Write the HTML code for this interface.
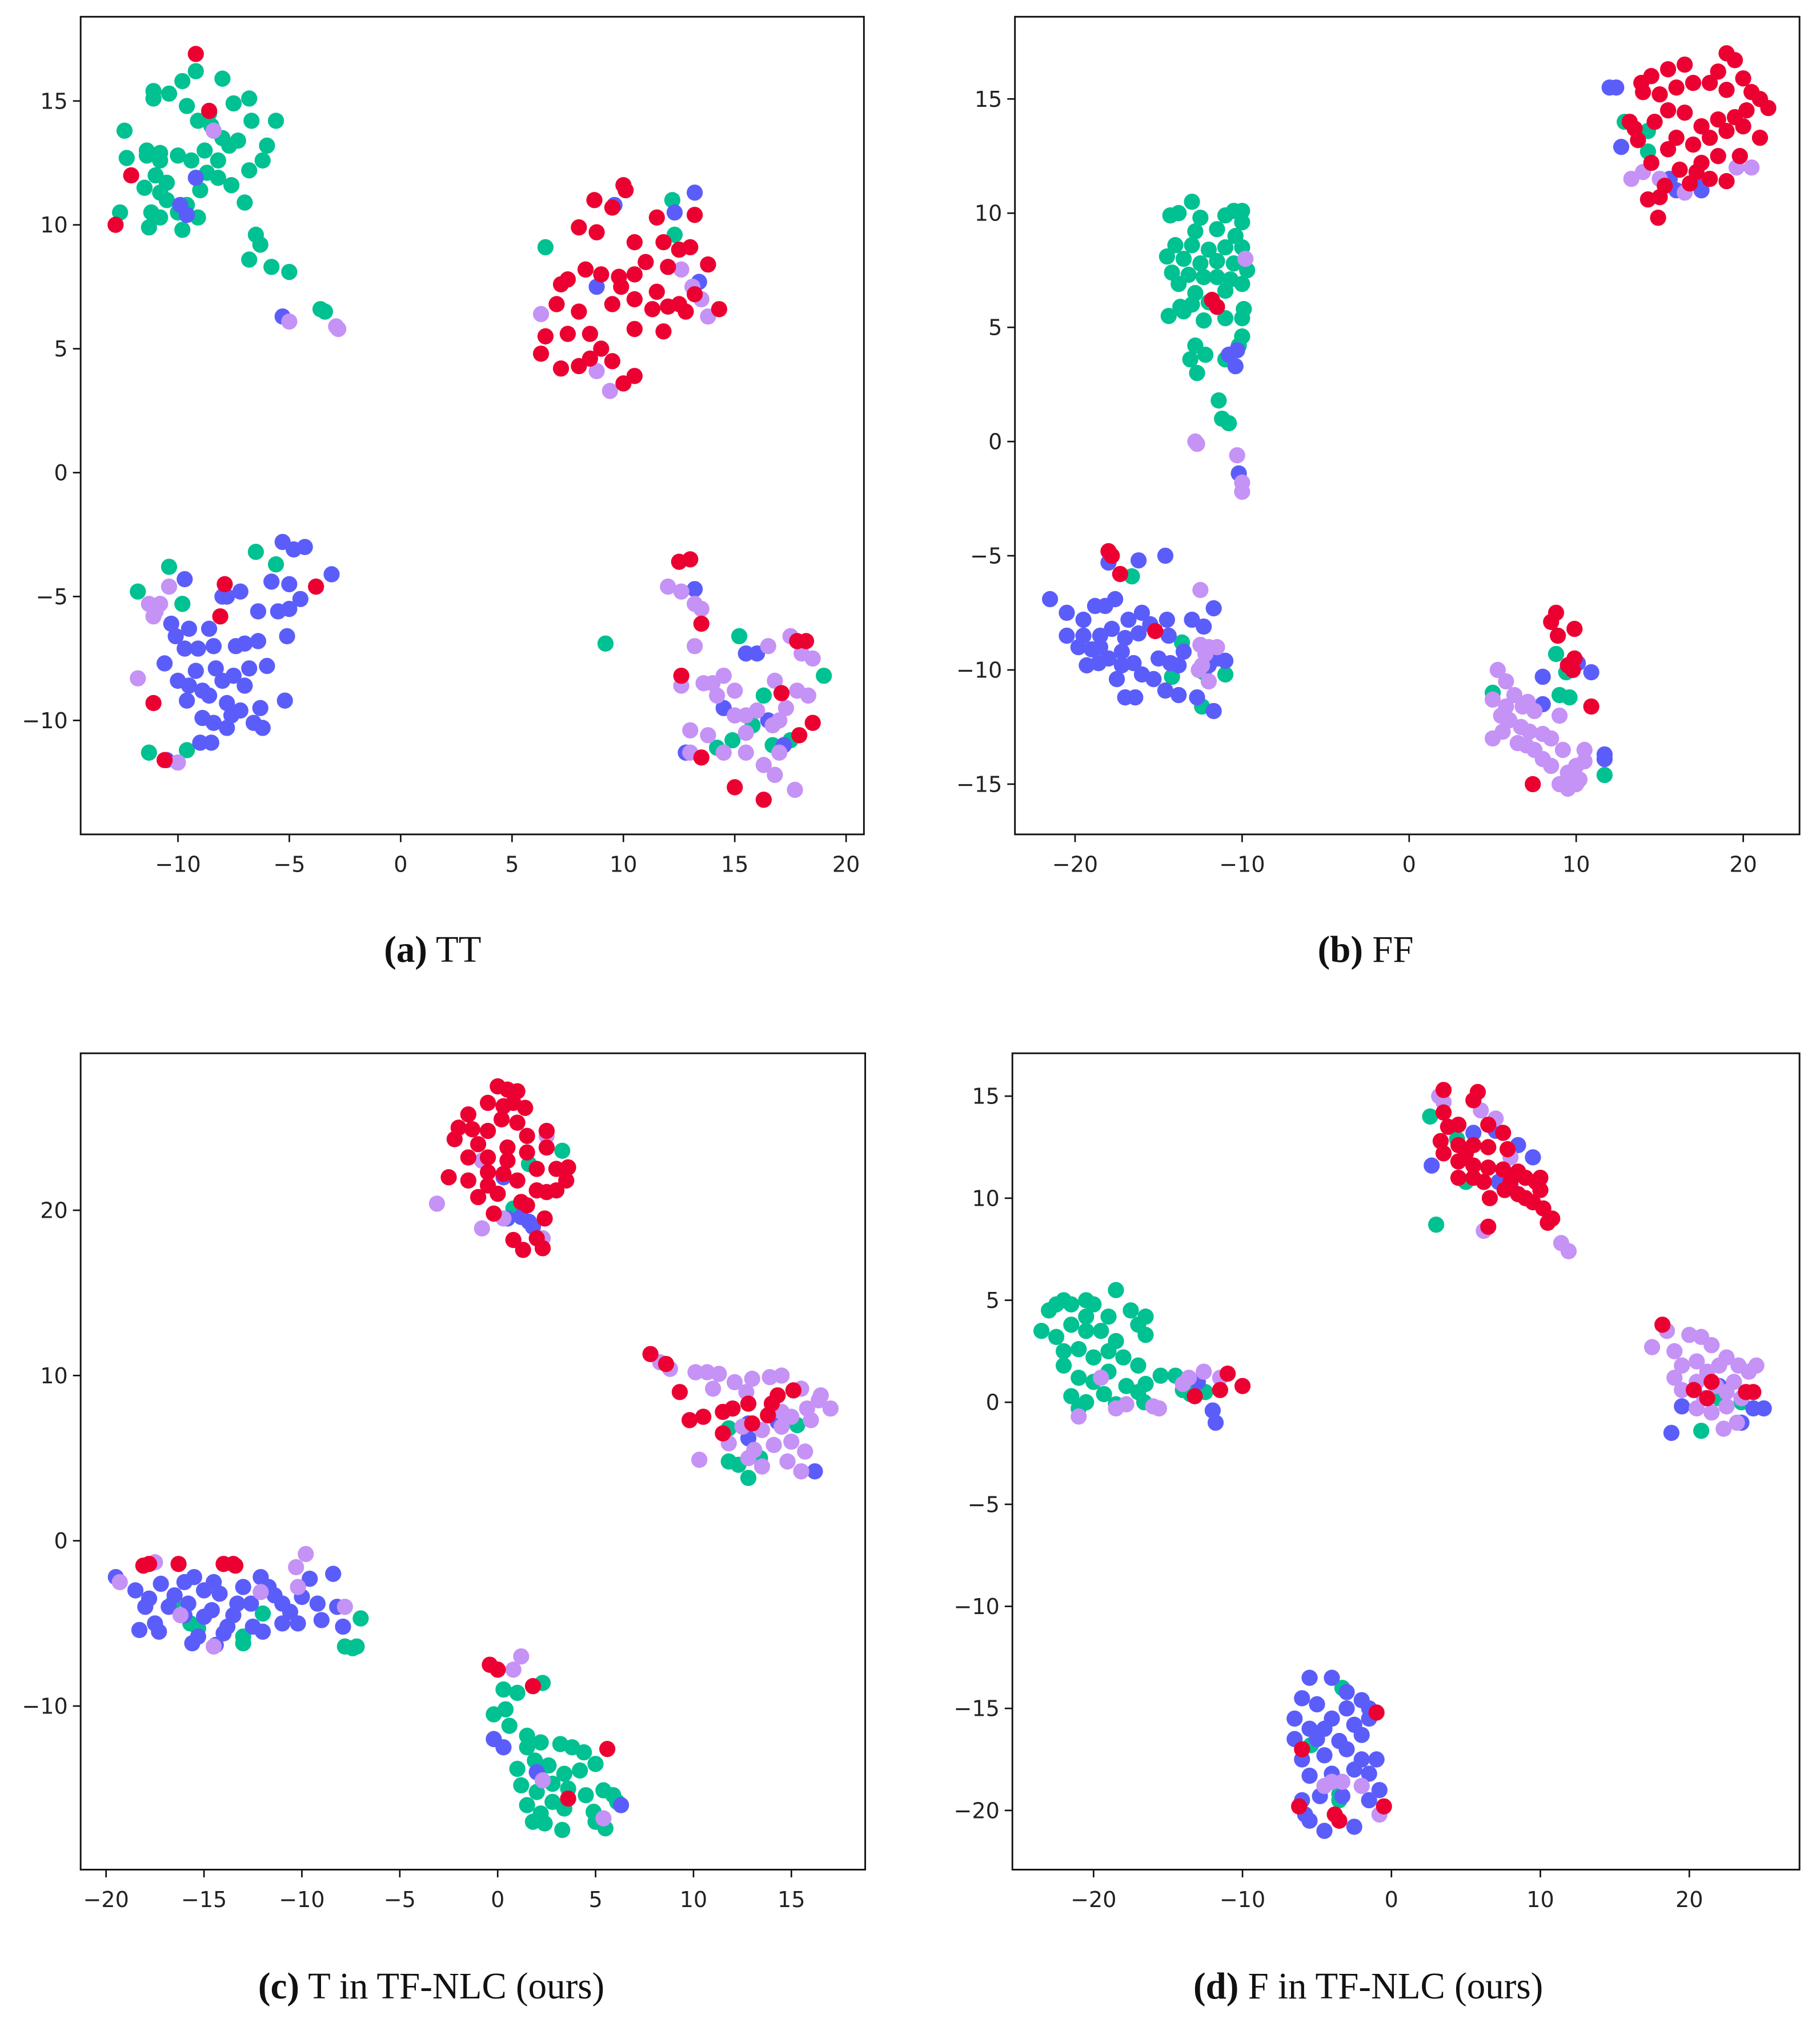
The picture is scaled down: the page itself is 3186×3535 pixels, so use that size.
<!DOCTYPE html>
<html><head><meta charset="utf-8"><style>
html,body{margin:0;padding:0;background:#fff;}
svg{display:block;}
.tick{font-family:"DejaVu Sans","Liberation Sans",sans-serif;font-size:17px;fill:#222;}
.cap{font-family:"Liberation Serif",serif;font-size:29px;fill:#111;}
</style></head><body>
<svg id="fig" width="3186" height="3535" viewBox="0 0 1422 1568" preserveAspectRatio="none" xmlns="http://www.w3.org/2000/svg"></svg>
<script>
// ---- data (cluster class codes: g=green, b=blue, l=lilac, r=red) ----
const panelNames=["a","b","c","d"];
const captionsLetter=["(a)","(b)","(c)","(d)"];
const captionsText=[" TT"," FF"," T in TF-NLC (ours)"," F in TF-NLC (ours)"];
const xTicksA=[-10,-5,0,5,10,15,20], yTicksA=[-10,-5,0,5,10,15];
const xTicksB=[-20,-10,0,10,20], yTicksB=[-15,-10,-5,0,5,10,15];
const xTicksC=[-20,-15,-10,-5,0,5,10,15], yTicksC=[-10,0,10,20];
const xTicksD=[-20,-10,0,10,20], yTicksD=[-20,-15,-10,-5,0,5,10,15];

const greenA=[[-12.4,13.8],[-12.3,12.7],[-12.6,10.5],[-11.1,15.4],[-11.1,15.1],[-11.4,12.8],[-10.8,12.6],[-10.4,15.3],[-9.8,15.8],[-9.2,16.2],[-9.6,14.8],[-9.1,14.2],[-8.6,14.5],[-8.0,15.9],[-7.5,14.9],[-6.8,15.1],[-6.7,14.2],[-5.6,14.2],[-6.0,13.2],[-6.2,12.6],[-6.8,12.2],[-7.0,10.9],[-7.6,11.6],[-8.2,11.9],[-8.7,12.1],[-9.0,11.4],[-9.1,10.3],[-9.6,10.8],[-10.0,10.5],[-10.5,11.0],[-10.8,10.3],[-11.3,9.9],[-11.2,10.5],[-10.8,11.3],[-10.5,11.7],[-11.0,12.0],[-11.4,13.0],[-10.8,12.9],[-10.0,12.8],[-9.4,12.6],[-8.8,13.0],[-8.2,12.6],[-7.7,13.2],[-6.5,9.6],[-6.3,9.2],[-5.8,8.3],[-5.0,8.1],[-3.6,6.6],[-3.4,6.5],[-11.5,11.5],[-8.5,14.0],[-8.0,13.5],[-7.3,13.4],[-9.8,9.8],[-6.8,8.6],[6.5,9.1],[12.2,11.0],[9.2,-6.9],[12.3,9.6],
[-11.8,-4.8],[-10.4,-3.8],[-9.8,-5.3],[-6.5,-3.2],[-5.6,-3.7],[-11.3,-11.3],[-9.6,-11.2],
[15.2,-6.6],[16.3,-9.0],[19.0,-8.2],[15.8,-10.2],[14.9,-10.8],[16.7,-11.0],[17.5,-10.8],[14.2,-11.1]];
const blueA=[[-9.2,11.9],[-9.9,10.8],[-5.3,6.3],[-9.6,10.4],[9.6,10.8],[12.3,10.5],[13.2,11.3],[13.4,7.7],[8.8,7.5],
[-5.3,-2.8],[-4.8,-3.1],[-4.3,-3.0],[-3.1,-4.1],[-5.8,-4.4],[-5.0,-4.5],[-4.5,-5.1],[-5.0,-5.5],[-5.5,-5.6],[-7.2,-4.8],[-7.8,-5.0],[-6.4,-5.6],[-5.1,-6.6],[-9.7,-4.3],[-10.3,-6.1],[-10.1,-6.6],[-9.5,-6.3],[-8.6,-6.3],[-9.7,-7.1],[-9.1,-7.1],[-8.4,-7.0],[-7.4,-7.0],[-7.0,-6.9],[-6.4,-6.8],[-10.6,-7.7],[-9.2,-8.0],[-8.3,-7.9],[-7.5,-8.2],[-6.8,-7.9],[-6.0,-7.8],[-10.0,-8.4],[-9.5,-8.6],[-8.9,-8.8],[-8.0,-8.4],[-7.0,-8.6],[-9.6,-9.2],[-8.6,-9.0],[-7.8,-9.3],[-7.2,-9.6],[-6.3,-9.5],[-5.2,-9.2],[-8.9,-9.9],[-8.4,-10.1],[-7.6,-9.8],[-6.6,-10.1],[-6.2,-10.3],[-9.0,-10.9],[-8.5,-10.9],[-10.5,-11.6],[-7.8,-10.3],[-8.0,-5.0],
[13.2,-4.7],[15.5,-7.3],[16.0,-7.3],[12.8,-11.3],[17.2,-11.0],[16.5,-10.0],[14.5,-9.5]];
const lilacA=[[-8.4,13.8],[-5.0,6.1],[-2.8,5.8],[-2.9,5.9],[6.3,6.4],[8.8,4.1],[9.4,3.3],[13.5,7.0],[13.8,6.3],[12.6,8.2],[13.1,7.5],
[-11.3,-5.3],[-11.0,-5.6],[-10.8,-5.3],[-10.4,-4.6],[-11.8,-8.3],[-10.0,-11.7],[-11.1,-5.8],
[12.0,-4.6],[12.6,-4.8],[13.2,-5.3],[13.5,-5.5],[13.2,-7.0],[12.6,-8.6],[13.6,-8.5],[14.0,-8.5],[14.5,-8.2],[15.0,-8.8],[14.2,-9.0],[13.0,-10.4],[13.8,-10.6],[15.0,-9.8],[15.5,-9.8],[16.0,-9.6],[16.5,-7.0],[16.8,-8.4],[17.5,-6.6],[18.0,-7.3],[18.5,-7.5],[17.8,-8.8],[18.3,-9.0],[17.3,-9.5],[16.7,-10.2],[17.0,-10.0],[15.5,-11.3],[14.5,-11.3],[16.3,-11.8],[17.0,-11.3],[16.8,-12.2],[17.7,-12.8],[13.0,-11.3],[15.5,-10.5]];
const redA=[[-12.8,10.0],[-12.1,12.0],[-9.2,16.9],[-8.6,14.6],
[10.0,11.6],[10.1,11.4],[8.7,11.0],[9.5,10.7],[11.5,10.3],[13.2,10.4],[8.0,9.9],[8.8,9.7],[10.5,9.3],[11.8,9.3],[12.5,9.0],[13.0,9.1],[7.5,7.8],[7.2,7.6],[8.3,8.2],[9.0,8.0],[9.8,7.9],[10.5,8.0],[11.0,8.5],[12.0,8.3],[13.8,8.4],[7.0,6.8],[8.0,6.5],[9.5,6.8],[10.5,7.0],[11.3,6.6],[12.0,6.7],[12.8,6.5],[14.3,6.6],[6.5,5.5],[7.5,5.6],[8.5,5.6],[9.0,5.0],[10.5,5.8],[11.8,5.7],[6.3,4.8],[7.2,4.2],[8.0,4.3],[8.5,4.6],[9.5,4.5],[10.0,3.6],[10.5,3.9],[12.5,6.8],[13.2,7.2],[11.5,7.3],[9.9,7.5],
[-7.9,-4.5],[-8.1,-5.8],[-11.1,-9.3],[-10.6,-11.6],[-3.8,-4.6],
[12.5,-3.6],[13.0,-3.5],[13.5,-6.1],[12.6,-8.2],[17.8,-6.8],[18.2,-6.8],[17.1,-8.9],[18.5,-10.1],[17.9,-10.6],[13.5,-11.5],[15.0,-12.7],[16.3,-13.2]];

const greenB=[[12.9,14],[14.3,13.6],[14.3,12.7],
[-13,10.5],[-14.3,9.9],[-13.8,10],[-12.5,9.8],[-11,9.9],[-10.5,10.1],[-10,10.1],[-10,9.6],[-11.5,9.3],[-12.8,9.2],[-14,8.6],[-13,8.6],[-12,8.4],[-11,8.5],[-10,8.5],[-14.5,8.1],[-13.5,8],[-12.5,7.8],[-11.5,7.9],[-10.5,7.8],[-9.7,7.5],[-14.2,7.4],[-13.2,7.3],[-12.3,7.2],[-11.5,7.2],[-10.7,7.1],[-10,6.9],[-13.8,6.9],[-12.8,6.5],[-11,6.6],[-14.4,5.5],[-13.5,5.7],[-12.3,5.3],[-11,5.4],[-10,5.4],[-9.9,5.8],[-12.8,4.2],[-12.2,3.8],[-13.1,3.6],[-11,3.6],[-12.7,3],[-10.2,4.2],[-10,4.6],[-11.4,1.8],[-11.2,1],[-10.8,0.8],[-13.7,5.9],[-12,6.1],[-13,6.0],[-10.4,9.0],
[-16.6,-5.9],[-13.6,-8.8],[-14.2,-10.3],[-12.4,-11.6],[-11,-10.2],[-12.3,-10.1],
[8.8,-9.3],[9.4,-10.1],[9.0,-11.1],[9.6,-11.2],[11.7,-14.6],[5,-11.0]];
const blueB=[[12,15.5],[12.4,15.5],[12.7,12.9],[17.4,11.3],[17.5,11],[16,11],[15.6,11.5],
[-10.8,3.8],[-10.4,3.3],[-10.2,-1.4],[-10.3,4.0],
[-21.5,-6.9],[-20.5,-7.5],[-19.5,-8.5],[-19.5,-7.8],[-18.8,-7.2],[-18.2,-7.2],[-17.6,-6.9],[-16.8,-7.8],[-16,-7.5],[-18,-5.3],[-16.2,-5.2],[-14.6,-5.0],[-20.5,-8.5],[-19.8,-9.0],[-19,-9.1],[-18.5,-8.5],[-17.8,-8.2],[-17,-8.6],[-16.2,-8.4],[-15.5,-8.0],[-14.5,-7.8],[-14.4,-8.5],[-19.3,-9.8],[-18.6,-9.7],[-18,-9.5],[-17.2,-9.2],[-16.5,-9.7],[-16,-10.2],[-15,-9.5],[-14.3,-9.7],[-13.8,-9.8],[-13.5,-9.2],[-13,-7.8],[-12.3,-8.1],[-11.7,-7.3],[-12,-9.8],[-11,-9.6],[-11.5,-9.5],[-17.5,-10.4],[-17,-11.2],[-16.4,-11.2],[-15.3,-10.4],[-14.6,-10.9],[-13.8,-11.1],[-12.7,-11.2],[-11.7,-11.8],[-18.5,-9],[-17.2,-9.8],
[8.0,-10.3],[10.1,-9.7],[10.9,-10.1],[8.0,-11.5],[11.7,-13.7],[11.7,-13.9]];
const lilacB=[[13.3,11.5],[14,11.8],[16.5,10.9],[19.6,12],[20.5,12],[15,11.5],
[-9.8,8],[-12.8,0],[-12.7,-0.1],[-10.3,-0.6],[-10,-1.8],[-10,-2.2],
[-12.5,-6.5],[-12.5,-8.9],[-12.2,-9.3],[-12.4,-9.8],[-11.5,-9.0],[-12,-10.5],[-12.6,-10],[-12.0,-9.0],
[5.3,-10.0],[5.0,-11.3],[5.8,-10.5],[6.3,-11.1],[6.8,-11.6],[7.1,-11.4],[7.5,-11.8],[5.5,-12],[6,-12.2],[6.7,-12.5],[7.2,-12.7],[8.0,-12.8],[8.5,-13.0],[9.0,-12.0],[9.2,-13.5],[5.0,-13.0],[5.6,-12.7],[6.5,-13.2],[7.0,-13.3],[7.5,-13.5],[8.0,-13.9],[8.5,-14.2],[9.5,-14.5],[10,-14.2],[10.5,-14],[10.2,-14.8],[9.0,-15.0],[9.5,-15.2],[10,-15.0],[10.5,-13.5],[5.8,-11.6]];
const redB=[[19,17],[19.5,16.7],[20,15.9],[18.5,16.2],[16.5,16.5],[15.5,16.3],[14.5,16],[13.9,15.7],[14,15.3],[15,15.2],[16,15.5],[17,15.7],[18,15.7],[19,15.4],[20.5,15.3],[21,15],[21.5,14.6],[20.2,14.5],[19.5,14.2],[18.5,14.1],[17.5,13.8],[16.5,14.4],[15.5,14.5],[14.7,14],[13.2,14],[13.5,13.7],[17,13],[18,13.3],[19,13.6],[20,13.8],[21,13.3],[19.8,12.5],[18.5,12.5],[17.5,12.2],[16,13.3],[15.5,12.8],[14.5,12.2],[16.2,11.9],[17.2,11.8],[18,11.5],[19,11.4],[15.3,11.2],[14.3,10.6],[15,10.7],[14.9,9.8],[16.8,11.3],[13.7,13.2],
[-11.5,5.9],[-11.8,6.2],
[-18,-4.8],[-17.8,-5.0],[-17.3,-5.8],[-15.2,-8.3],
[8.8,-7.5],[8.5,-7.9],[8.9,-8.5],[9.9,-8.2],[9.9,-9.5],[9.5,-9.8],[9.8,-10],[10.9,-11.6],[7.4,-15.0]];

const greenC=[[1.6,22.8],[3.3,23.6],[0.8,20.1],
[11.8,6.8],[11.8,4.8],[12.3,4.6],[12.8,3.8],[15.3,7.0],[13.4,5.0],
[-16.6,-3.8],[-15.7,-5.0],[-15.3,-5.3],[-13.0,-6.2],[-13.0,-5.8],[-12.0,-4.4],[-7.8,-6.4],[-7.4,-6.5],[-7.2,-6.4],[-7.0,-4.7],
[-0.2,-10.5],[0.4,-10.2],[0.3,-9.0],[1.0,-9.2],[2.3,-8.6],[0.6,-11.2],[1.5,-11.8],[1.5,-12.5],[2.2,-12.2],[3.2,-12.3],[3.8,-12.5],[4.4,-12.8],[1.0,-13.8],[1.9,-13.3],[2.6,-13.6],[3.4,-14.1],[4.2,-13.9],[5.0,-13.5],[1.2,-14.8],[2.0,-15.2],[2.8,-14.7],[3.6,-15.0],[4.5,-15.4],[5.4,-15.1],[5.9,-15.4],[6.1,-15.8],[1.5,-16],[2.2,-16.5],[2.8,-15.8],[3.4,-16.2],[4.9,-16.4],[2.4,-17.1],[3.3,-17.5],[5.0,-17.0],[5.5,-17.4],[1.8,-17.0]];
const blueC=[[0.5,19.5],[1.2,19.6],[1.8,19.0],[1.6,19.3],[0.3,22.0],
[12.8,7.1],[14.3,7.2],[16.2,4.2],[12.8,6.2],
[-19.5,-2.2],[-18.5,-3.0],[-18,-4.0],[-18.3,-5.4],[-17.5,-5.0],[-17.2,-2.6],[-16.5,-3.3],[-16,-2.5],[-15.8,-3.8],[-15.5,-2.2],[-15,-3],[-14.5,-2.5],[-14.2,-3.2],[-14.6,-4.2],[-15.3,-5.8],[-14.4,-6.3],[-13.8,-5.2],[-13.3,-3.8],[-13,-2.8],[-12.6,-3.8],[-12.1,-2.2],[-11.7,-2.8],[-11.4,-3.3],[-11,-3.8],[-10.6,-4.3],[-10.2,-5],[-9.6,-2.3],[-9.2,-3.8],[-9.0,-4.8],[-8.4,-2.0],[-8.2,-4.0],[-7.9,-5.2],[-12.5,-5.2],[-12,-5.5],[-16.8,-4.0],[-17.8,-3.5],[-16,-4.5],[-13.5,-4.5],[-11,-5.0],[-10.0,-3.4],[-15.0,-4.6],[-17.3,-5.5],[-14,-5.6],[-15.6,-6.2],
[-0.2,-12.0],[0.3,-12.5],[6.3,-16.0],[2.0,-14.0]];
const lilacC=[[-3.1,20.4],[-0.8,23.0],[-0.8,18.9],[2.5,24.5],[2.3,18.3],[0.3,19.5],
[8.3,10.8],[8.8,10.4],[10.1,10.2],[10.7,10.2],[11.3,10.1],[12.1,9.6],[13.0,9.8],[13.9,9.9],[14.5,10.0],[15.5,9.2],[16.4,8.5],[17,8],[16.5,8.8],[15.8,8.0],[15,7.5],[14.5,6.9],[13.5,6.7],[12.5,6.9],[11.8,5.9],[13.1,5.5],[14.1,5.8],[15,6.0],[15.7,5.4],[10.3,4.9],[13.5,4.5],[14.8,4.8],[12.8,5.0],[15.5,4.2],[14.5,7.8],[16,7.3],[11,9.2],[12.7,9.0],
[-19.3,-2.5],[-17.5,-1.3],[-14.5,-6.4],[-12.1,-3.1],[-10.3,-1.6],[-9.8,-0.8],[-10.2,-2.8],[-7.8,-4.0],[-16.2,-4.5],
[1.2,-7.0],[0.8,-7.8],[5.4,-16.8],[2.3,-14.5]];
const redC=[[0,27.5],[0.5,27.3],[1,27.2],[-0.5,26.5],[0.3,26.3],[0.8,26.5],[1.4,26.2],[-1.5,25.8],[0.2,25.5],[1.0,25.3],[-2.0,25],[-1.3,24.9],[-0.5,24.8],[1.5,24.5],[2.5,24.8],[-2.2,24.3],[-1,24],[0.5,23.8],[1.5,23.5],[2.5,23.8],[-1.5,23.2],[-0.5,23.2],[0.5,23],[2,22.5],[3,22.5],[3.6,22.6],[-2.5,22],[-1.5,21.8],[-0.5,21.5],[1,21.8],[2,21.2],[3,21.2],[3.5,21.8],[-1,20.8],[0,21],[1.2,20.5],[2.5,21.1],[0.8,18.2],[1.3,17.6],[2.3,17.7],[2.0,18.3],[-0.5,22.3],[0.3,22.2],[1.5,20.3],[2.4,19.5],[-0.2,19.8],
[7.8,11.3],[9.3,9.0],[8.6,10.7],[9.8,7.3],[10.5,7.5],[11.5,7.8],[12,8],[12.8,8.3],[14,8.3],[14.3,8.8],[15.1,9.1],[13.8,7.6],[11.5,6.5],[13,7.1],
[-18.1,-1.5],[-17.8,-1.4],[-16.3,-1.4],[-14,-1.4],[-13.5,-1.4],[-13.4,-1.5],
[-0.4,-7.5],[0,-7.8],[1.8,-8.8],[5.6,-12.6],[3.6,-15.6]];

const greenD=[[2.6,14.0],[4.4,12.9],[5.0,10.8],[3.0,8.7],
[-23,4.5],[-22.5,4.8],[-22,5],[-21.5,4.8],[-20.5,5],[-20,4.8],[-18.5,5.5],[-17.5,4.5],[-16.5,4.2],[-23.5,3.5],[-22.5,3.2],[-21.5,3.8],[-20.5,3.5],[-19.5,3.5],[-18.5,3.0],[-17,3.8],[-16.5,3.3],[-22,2.5],[-21,2.6],[-20,2.2],[-19,2.5],[-18,2.2],[-17,1.8],[-22,1.8],[-21,1.2],[-20,1.0],[-19,1.5],[-17.8,0.8],[-16.5,0.9],[-15.5,1.3],[-21.5,0.3],[-20.5,0],[-19.3,0.4],[-18.5,-0.1],[-17,0.5],[-16.6,0],[-14.5,1.3],[-14,0.6],[-13.5,0.4],[-12.5,0.5],[-21,-0.3],[-20.5,4.2],[-19,4.2],
[20.8,-1.4],[22.0,0.2],[23.5,0],
[-3.3,-14],[-5.4,-16.8],[-3.5,-19.5],[-3.5,-19.2]];
const blueD=[[2.7,11.6],[5.5,13.2],[7.0,13.3],[8.5,12.6],[9.5,12.0],[7.2,10.8],[7.5,11.0],[8,10.6],
[-12,-0.4],[-11.8,-1.0],[-13,1.0],
[18.8,-1.5],[23.5,-1.0],[24.3,-0.3],[25,-0.3],[22,0.8],[19.5,-0.2],
[-5.5,-13.5],[-4,-13.5],[-6,-14.5],[-5,-14.8],[-3,-14.2],[-2,-14.6],[-1.5,-15.0],[-6.5,-15.5],[-5.5,-16],[-4,-15.5],[-2.5,-15.8],[-1.5,-15.5],[-6.5,-16.5],[-5,-16.5],[-3.5,-16.6],[-2,-16.3],[-6,-17.5],[-4.5,-17.3],[-3,-17.0],[-2,-17.5],[-1,-17.5],[-5.5,-18.3],[-4,-18.2],[-2.5,-18.0],[-1.5,-18.2],[-6,-19.5],[-4.8,-19.3],[-3.3,-19.3],[-1.5,-19.5],[-0.8,-19.0],[-5.5,-20.5],[-4.5,-21.0],[-2.5,-20.8],[-5.8,-20.2],[-3,-15.0],[-4.5,-16.0]];
const lilacD=[[3.2,15.0],[3.5,14.7],[6.0,14.3],[7.0,13.9],[11.4,7.8],[11.9,7.4],[6.2,8.4],[8.0,12.0],
[-21.0,-0.7],[-17.8,-0.1],[-18.5,-0.3],[-15.6,-0.3],[-16,-0.2],[-13.6,1.2],[-12.6,1.5],[-11.5,1.2],[-19.5,1.2],[-14,0.9],
[17.5,2.7],[18.5,3.5],[19,2.5],[19.5,1.8],[20,3.3],[20.8,3.2],[21.5,2.8],[22.5,2.2],[23.3,1.8],[24,1.5],[24.5,1.8],[19.5,0.6],[20.5,1.0],[21.2,1.5],[21.8,0.8],[22.5,0.5],[23,1.0],[20.5,-0.3],[21.5,-0.5],[22.5,-0.2],[23.5,0.2],[22.3,-1.3],[23.2,-1.0],[20.5,2.0],[19,1.2],[22,1.8],[21,0.2],
[-4,-18.6],[-3.3,-18.6],[-2,-18.8],[-0.8,-20.2],[-4.5,-18.8]];
const redD=[[3.5,15.3],[5.8,15.2],[5.5,14.8],[3.5,14.2],[4.5,13.6],[6.5,13.6],[7.5,13.2],[3.3,12.8],[4.5,12.6],[5.5,12.6],[6.5,12.5],[7.8,12.4],[3.5,12.2],[4.5,11.8],[5.5,11.6],[6.5,11.5],[7.5,11.4],[8.5,11.3],[4.5,11.0],[5.5,11.0],[6.2,10.8],[8,10.8],[9,11.0],[9.7,10.8],[10,10.4],[8.5,10.2],[9.5,9.8],[10.2,9.5],[10.5,8.8],[10.8,9.0],[7.6,10.4],[6.6,10.0],[6.5,8.6],[9.0,10.0],[10.0,11.0],[3.8,13.5],[5,12.2],
[-13.2,0.3],[-11,1.4],[-10,0.8],[-11.5,0.6],
[18.2,3.8],[20.3,0.6],[21.2,0.2],[23.8,0.5],[24.3,0.5],[21.5,1.0],
[-6,-17],[-1,-15.2],[-6.2,-19.8],[-3.8,-20.2],[-3.5,-20.5],[-0.5,-19.8]];

// ---- layout (pixel geometry, not data) ----
const svg=document.getElementById('fig');
const NS="http://www.w3.org/2000/svg";
const colors={green:"#00c191",blue:"#5b5dfa",lilac:"#c592f6",red:"#ec0031"};
const panels=[
 {box:[63,13,675,648],xd:[-14.37,20.8],yd:[-14.6,18.4],xt:xTicksA,yt:yTicksA,s:{green:greenA,blue:blueA,lilac:lilacA,red:redA},capY:738,capX:338},
 {box:[793,13,1406,648],xd:[-23.6,23.37],yd:[-17.2,18.6],xt:xTicksB,yt:yTicksB,s:{green:greenB,blue:blueB,lilac:lilacB,red:redB},capY:738,capX:1067},
 {box:[63,818,676,1452],xd:[-21.3,18.77],yd:[-19.9,29.5],xt:xTicksC,yt:yTicksC,s:{green:greenC,blue:blueC,lilac:lilacC,red:redC},capY:1543,capX:337},
 {box:[791,818,1406,1452],xd:[-25.45,27.4],yd:[-22.9,17.1],xt:xTicksD,yt:yTicksD,s:{green:greenD,blue:blueD,lilac:lilacD,red:redD},capY:1543,capX:1069}
];
function mk(tag,attrs,parent){const e=document.createElementNS(NS,tag);for(const k in attrs)e.setAttribute(k,attrs[k]);(parent||svg).appendChild(e);return e;}
function fmt(v){return v<0?"\u2212"+(-v):String(v);}
panels.forEach((p,i)=>{
  const [x0,y0,x1,y1]=p.box;
  const X=v=>x0+(v-p.xd[0])/(p.xd[1]-p.xd[0])*(x1-x0);
  const Y=v=>y1-(v-p.yd[0])/(p.yd[1]-p.yd[0])*(y1-y0);
  const g=mk('g',{});
  
  
  const clipId='clip'+i;
  const cp=mk('clipPath',{id:clipId},g);mk('rect',{x:x0,y:y0,width:x1-x0,height:y1-y0},cp);
  const pts=mk('g',{'clip-path':'url(#'+clipId+')'},g);
  
  
  ['green','blue','lilac','red'].forEach(c=>{
    p.s[c].forEach(d=>{
      const el=mk('circle',{cx:X(d[0]).toFixed(1),cy:Y(d[1]).toFixed(1),r:6.3,fill:colors[c]},pts);
      
      
    });
  });
  const fr=mk('rect',{x:x0,y:y0,width:x1-x0,height:y1-y0,fill:'none',stroke:'#111','stroke-width':1.3},g);
  
  
  p.xt.forEach(t=>{
    const x=X(t);
    mk('line',{x1:x,x2:x,y1:y1,y2:y1+6,stroke:'#111','stroke-width':1.2},g);
    const tx=mk('text',{x:x,y:y1+29,'text-anchor':'middle',class:'tick'},g);
    tx.textContent=fmt(t);
    
    
  });
  p.yt.forEach(t=>{
    const y=Y(t);
    mk('line',{x1:x0-6,x2:x0,y1:y,y2:y,stroke:'#111','stroke-width':1.2},g);
    const tx=mk('text',{x:x0-10,y:y+6,'text-anchor':'end',class:'tick'},g);
    tx.textContent=fmt(t);
    
    
  });
  const cap=mk('text',{x:p.capX,y:p.capY+9,'text-anchor':'middle',class:'cap'},g);
  
  
  const b=mk('tspan',{'font-weight':'bold'},cap);b.textContent=captionsLetter[i];
  const r=mk('tspan',{},cap);r.textContent=captionsText[i];
});
</script>
</body></html>
